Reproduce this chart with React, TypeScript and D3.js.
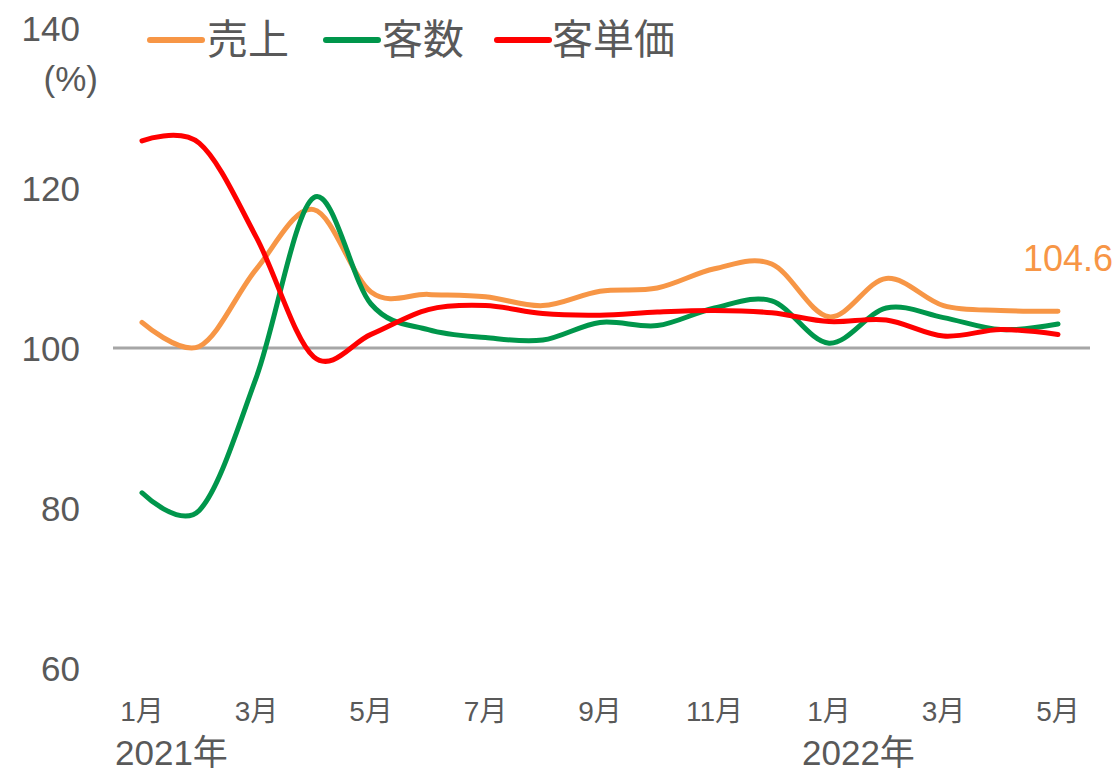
import React from "react";
import * as d3 from "d3";

const months = ["1月", "2月", "3月", "4月", "5月", "6月", "7月", "8月", "9月", "10月", "11月", "12月", "1月", "2月", "3月", "4月", "5月"];
const tickMonthIdx = [0, 2, 4, 6, 8, 10, 12, 14, 16];
const yearLabels = [
  { idx: 0, label: "2021年" },
  { idx: 12, label: "2022年" },
];
const yTicks = [60, 80, 100, 120, 140];

const sales = [103.2, 100.2, 109.9, 117.3, 107.0, 106.7, 106.4, 105.3, 107.1, 107.5, 109.9, 110.5, 103.9, 108.7, 105.3, 104.7, 104.6];
const customers = [81.9, 79.7, 96.4, 118.8, 105.5, 102.3, 101.3, 101.0, 103.2, 102.8, 105.0, 105.9, 100.6, 105.0, 103.8, 102.3, 103.0];
const unitPrice = [125.9, 125.6, 113.8, 98.9, 101.7, 104.8, 105.3, 104.3, 104.1, 104.5, 104.7, 104.4, 103.3, 103.5, 101.5, 102.3, 101.7];

const seriesList = [
  { name: "売上", values: sales, color: "#F79646" },
  { name: "客数", values: customers, color: "#00964B" },
  { name: "客単価", values: unitPrice, color: "#FF0000" },
];

const W = 1119;
const H = 770;
const FONT = "'Liberation Sans', Arial, 'Noto Sans CJK JP', sans-serif";
const TEXT = "#595959";

export default function App() {
  const x = d3.scalePoint<number>().domain(d3.range(months.length)).range([142, 1058]);
  const y = d3.scaleLinear().domain([60, 140]).range([668, 28]);
  const line = d3
    .line<number>()
    .x((_, i) => x(i) as number)
    .y((d) => y(d))
    .curve(d3.curveCardinal.tension(0));

  const legendItems = [
    { lx: 150, tx: 207 },
    { lx: 326, tx: 382 },
    { lx: 497, tx: 552 },
  ];

  const last = sales.length - 1;

  return (
    <svg width={W} height={H} style={{ position: "absolute", left: 0, top: 0, background: "#fff" }} fontFamily={FONT}>
      <rect x={0} y={0} width={W} height={H} fill="#fff" />
      {/* y tick labels */}
      {yTicks.map((t) => (
        <text key={t} x={80} y={y(t)} textAnchor="end" dominantBaseline="central" fontSize={35} fill={TEXT}>
          {t}
        </text>
      ))}
      <text x={98} y={78} textAnchor="end" dominantBaseline="central" fontSize={35} fill={TEXT}>
        (%)
      </text>
      {/* baseline 100 */}
      <line x1={113} x2={1090} y1={y(100)} y2={y(100)} stroke="#A6A6A6" strokeWidth={3} />
      {/* series */}
      {seriesList.map((s) => (
        <path key={s.name} d={line(s.values) || ""} fill="none" stroke={s.color} strokeWidth={5} strokeLinecap="round" strokeLinejoin="round" />
      ))}
      {/* data label */}
      <text x={(x(last) as number) + 10} y={y(sales[last]) - 40} textAnchor="middle" fontSize={36} fill="#F79646">
        {sales[last].toFixed(1)}
      </text>
      {/* x labels */}
      {tickMonthIdx.map((i) => (
        <text key={i} x={x(i) as number} y={711} textAnchor="middle" dominantBaseline="central" fontSize={28} fill={TEXT}>
          {months[i]}
        </text>
      ))}
      {yearLabels.map((yl) => (
        <text key={yl.label} x={(x(yl.idx) as number) - 27} y={752} textAnchor="start" dominantBaseline="central" fontSize={35} fill={TEXT}>
          {yl.label}
        </text>
      ))}
      {/* legend */}
      {seriesList.map((s, k) => (
        <g key={s.name}>
          <line x1={legendItems[k].lx} x2={legendItems[k].lx + 52} y1={40} y2={40} stroke={s.color} strokeWidth={6} strokeLinecap="round" />
          <text x={legendItems[k].tx} y={40} dominantBaseline="central" fontSize={41} fill={TEXT}>
            {s.name}
          </text>
        </g>
      ))}
    </svg>
  );
}
